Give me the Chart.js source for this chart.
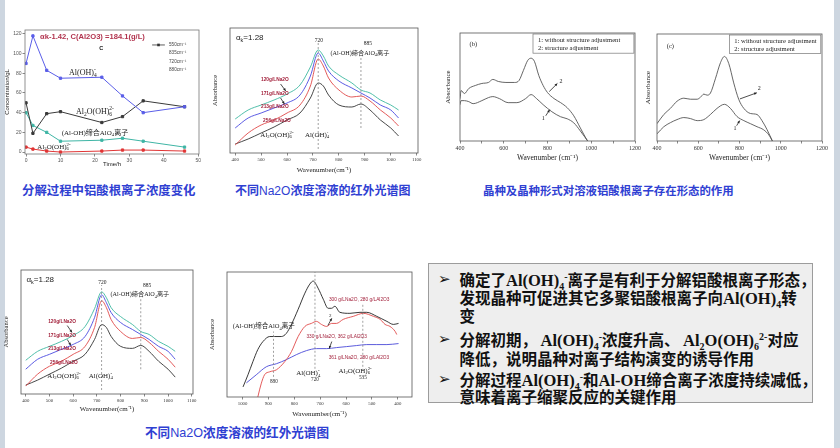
<!DOCTYPE html>
<html><head><meta charset="utf-8">
<script src="https://cdn.jsdelivr.net/npm/chart.js@4.4.1/dist/chart.umd.min.js"></script>
<style>
html,body{margin:0;padding:0;background:#fff;}
body{width:840px;height:448px;overflow:hidden;position:relative;}
.edge{position:absolute;top:0;height:448px;background:#cdd6e0}
canvas{position:absolute}
.cap{position:absolute;color:#2f40d2;font-family:"Noto Sans CJK SC",sans-serif;font-weight:700;white-space:nowrap;line-height:16px}
.cap .lat{font-family:"Liberation Sans",Arial,sans-serif;font-weight:400}
.box{position:absolute;left:428px;top:263px;width:385px;height:140px;box-sizing:border-box;background:#eeeeee;border:1.5px solid #9c9c9c;font-family:"Noto Sans CJK SC",sans-serif;font-weight:700;font-size:15.5px;color:#111}
.ln{position:absolute;left:30.5px;height:18px;line-height:18px;white-space:nowrap}
.bul{position:absolute;left:9px;height:18px;line-height:18px;font-family:"DejaVu Sans",sans-serif;font-weight:400;font-size:15px}
.s{font-family:"Liberation Serif",serif;font-weight:700;font-size:16.5px;line-height:0}
.s sub,.s sup{font-size:10px;line-height:0}
</style></head>
<body>
<div class="edge" style="left:0;width:5px"></div>
<div class="edge" style="right:0;width:6px"></div>

<div class="cap" style="left:22px;top:182px;font-size:12.4px">分解过程中铝酸根离子浓度变化</div>
<div class="cap" style="left:235px;top:182px;font-size:12px">不同<span class="lat">Na2O</span>浓度溶液的红外光谱图</div>
<div class="cap" style="left:483px;top:182px;font-size:11.4px">晶种及晶种形式对溶液铝酸根离子存在形态的作用</div>
<div class="cap" style="left:145px;top:424px;font-size:12.6px">不同<span class="lat">Na2O</span>浓度溶液的红外光谱图</div>

<div class="box">
<span class="bul" style="top:5.5px">➢</span>
<div class="ln" style="top:5.5px">确定了<span class="s">Al(OH)<sub>4</sub><sup>-</sup></span>离子是有利于分解铝酸根离子形态，</div>
<div class="ln" style="top:24px">发现晶种可促进其它多聚铝酸根离子向<span class="s">Al(OH)<sub>4</sub></span>转</div>
<div class="ln" style="top:42px">变</div>
<span class="bul" style="top:66px">➢</span>
<div class="ln" style="top:66px">分解初期，&nbsp;<span class="s">Al(OH)<sub>4</sub><sup>-</sup></span>浓度升高、&nbsp;<span class="s">Al<sub>2</sub>O(OH)<sub>6</sub><sup>2-</sup></span>对应</div>
<div class="ln" style="top:84.5px">降低，说明晶种对离子结构演变的诱导作用</div>
<span class="bul" style="top:105.5px">➢</span>
<div class="ln" style="top:105.5px">分解过程<span class="s">Al(OH)<sub>4</sub><sup>-</sup></span>和<span class="s">Al-OH</span>缔合离子浓度持续减低，</div>
<div class="ln" style="top:123px">意味着离子缩聚反应的关键作用</div>
</div>

<script>
// ================= DATA =================
// Panel 1: concentration vs time
const timeH        = [0, 2, 6, 10, 22, 28, 34, 46];
const concAlOH4    = [90, 118, 83, 75, 76, 57, 40, 46];
const concAl2O     = [50, 19, 39, 41, 30, 36, 52, 46];
const concAssoc    = [40, 27, 20, 11, 12, 14, 11, 5];
const concAl2OLow  = [5, 3, 1, 0, 1, 2, 2, 1];
const timeTicks    = [0, 10, 20, 30, 40, 50];
const concTicks    = [0, 20, 40, 60, 80, 100, 120];
const legendLabels = ['550cm⁻¹', '835cm⁻¹', '720cm⁻¹', '880cm⁻¹'];

// Panels 2 & 4: IR spectra at different Na2O concentrations
const naWn   = [400,450,500,550,600,650,690,720,740,760,800,850,885,920,960,1000,1030];
const na120  = [34,43,48,53,59,68,86,103,97,87,78,70,63,60,53,48,43];
const na171  = [25,35,40,45,50,58,77,100,92,82,72,65,60,55,48,43,35];
const na213  = [8,20,28,33,40,48,67,94,87,75,63,56,57,52,43,35,27];
const na256  = [9,14,20,26,33,40,55,70,67,58,48,46,49,43,33,25,17];
const naTicks = [400,500,600,700,800,900,1000,1100];
const naLabels = ['120g/LNa2O','171g/LNa2O','213g/LNa2O','256g/LNa2O'];

// Panel 3 (b): seed effect
const bWn2  = [400,405,420,440,470,500,530,550,575,610,650,670,690,710,725,740,760,780,800,830,860,890,920,950,975,990];
const bAbs2 = [42,50,47,52,55,57,58,61,59,58,58,60,70,80,82,79,65,55,48,42,38,33,25,13,3,-2];
const bWn1  = [400,405,420,440,460,500,530,550,580,620,660,700,725,750,780,820,860,890,920,950,990];
const bAbs1 = [36,40,40,39,37,40,43,44,42,38,38,42,46,42,36,29,24,22,18,10,-2];
// Panel 3 (c)
const cWn2  = [400,433,465,497,530,562,595,611,627,643,659,683,708,727,748,772,796,821,853,885,909,934,962];
const cAbs2 = [17,26,32,39,42,41,41,43,46,45,47,61,77,83,76,57,41,32,27,26,20,11,-1];
const cWn1  = [400,433,465,497,530,562,595,627,659,691,727,756,788,821,853,885,917,942,962];
const cAbs1 = [7,14,18,21,23,22,20,21,26,32,36,32,24,20,17,14,11,6,-1];
const seedTicks = [400,500,600,700,800,900,1000,1100,1200];
const seedLegend = ['1: without structure adjustment','2: structure adjustment'];

// Panel 5: mixed solutions
const mixBlackWn = [998,979,960,941,921,895,876,850,831,811,785,759,740,727,708,688,669,656,643,624,585,546,520,481,442,417,397];
const mixBlack   = [10,22,35,47,55,60,60,60,63,72,87,103,112,115,108,97,88,88,90,84,83,84,84,80,75,72,73];
const mixRedWn   = [950,928,915,895,869,837,811,785,759,734,714,695,675,656,637,611,572,533,494,468,449,430,410,404];
const mixRed     = [-10,13,22,25,27,35,45,60,70,73,75,72,70,73,73,77,80,83,80,77,72,70,65,62];
const mixBlueWn  = [985,947,908,869,831,792,753,714,675,637,598,560,520,481,442,397];
const mixBlue    = [14,22,30,33,37,42,46,48,48,49,50,51,52,52,52,53];
const mixTicks   = [1000,900,800,700,600,500,400];
const mixLabels  = ['300 g/LNa2O, 280 g/LAl2O3','330 g/LNa2O, 362 g/LAl2O3','361 g/LNa2O, 280 g/LAl2O3'];

// ================= HELPERS =================
const SANS  = '"Liberation Sans", Arial, sans-serif';
const SERIF = '"Liberation Serif", "Times New Roman", "Noto Sans CJK SC", serif';
const NRED  = '#a3223c';
const NOTES = {};

function parseRich(str){
  const segs=[]; let i=0;
  while(i<str.length){
    const c=str[i];
    if(c==='_'||c==='^'){
      let t=''; i++;
      if(str[i]==='{'){ i++; while(i<str.length&&str[i]!=='}'){t+=str[i];i++;} i++; }
      else { t=str[i]; i++; }
      segs.push({t,k:c==='_'?'sub':'sup'});
    } else {
      let t=''; while(i<str.length&&str[i]!=='_'&&str[i]!=='^'){t+=str[i];i++;}
      segs.push({t,k:'n'});
    }
  }
  return segs;
}
function drawRich(ctx,str,x,y,o){
  const size=o.size||7, fam=o.fam||SANS, w=o.w||'normal', sm=size*0.68;
  const segs=parseRich(str);
  const f=s=>`${w} ${s.k==='n'?size:sm}px ${fam}`;
  let pos=0; const placed=[];
  for(let i=0;i<segs.length;i++){
    const s=segs[i]; ctx.font=f(s); s.w=ctx.measureText(s.t).width;
    if(s.k==='sup'&&i>0&&segs[i-1].k==='sub'){
      const p=segs[i-1]; s.x=p.x; pos=p.x+Math.max(p.w,s.w);
    } else { s.x=pos; pos+=s.w; }
    placed.push(s);
  }
  let x0=x; if((o.a||'center')==='center') x0=x-pos/2; else if(o.a==='right') x0=x-pos;
  ctx.fillStyle=o.c||'#222'; ctx.textBaseline='middle'; ctx.textAlign='left';
  placed.forEach(s=>{
    ctx.font=f(s);
    const dy = s.k==='sub'? size*0.3 : s.k==='sup'? -size*0.38 : 0;
    ctx.fillText(s.t,x0+s.x,y+dy);
  });
}

Chart.register({
  id:'notes',
  afterDatasetsDraw(chart){
    const n=NOTES[chart.canvas.id]; if(!n) return;
    const ctx=chart.ctx, xs=chart.scales.x, ys=chart.scales.y, ca=chart.chartArea;
    const X=v=>xs.getPixelForValue(v), Y=v=>ys.getPixelForValue(v);
    ctx.save();
    (n.items||[]).forEach(it=>{
      if(it.t==='vline'){
        ctx.strokeStyle=it.c||'#8a8a8a'; ctx.lineWidth=0.8; ctx.setLineDash([2,2]);
        ctx.beginPath(); ctx.moveTo(X(it.x),Y(it.y0)); ctx.lineTo(X(it.x),Y(it.y1)); ctx.stroke(); ctx.setLineDash([]);
      } else if(it.t==='text'){
        drawRich(ctx,it.s,X(it.x),Y(it.y),it);
      } else if(it.t==='arrow'){
        const x0=X(it.x0),y0=Y(it.y0),x1=X(it.x1),y1=Y(it.y1);
        ctx.strokeStyle='#222'; ctx.fillStyle='#222'; ctx.lineWidth=0.8;
        ctx.beginPath(); ctx.moveTo(x0,y0); ctx.lineTo(x1,y1); ctx.stroke();
        const a=Math.atan2(y1-y0,x1-x0), L=3;
        ctx.beginPath(); ctx.moveTo(x1,y1);
        ctx.lineTo(x1-L*Math.cos(a-0.45),y1-L*Math.sin(a-0.45));
        ctx.lineTo(x1-L*Math.cos(a+0.45),y1-L*Math.sin(a+0.45)); ctx.closePath(); ctx.fill();
      } else if(it.t==='box'){
        ctx.fillStyle='#fff'; ctx.strokeStyle='#777'; ctx.lineWidth=0.7;
        const x0=X(it.x0),y0=Y(it.y0),x1=X(it.x1),y1=Y(it.y1);
        ctx.fillRect(x0,y0,x1-x0,y1-y0); ctx.strokeRect(x0,y0,x1-x0,y1-y0);
      } else if(it.t==='legline'){
        ctx.strokeStyle='#333'; ctx.fillStyle='#333'; ctx.lineWidth=0.8;
        ctx.beginPath(); ctx.moveTo(X(it.x0),Y(it.y)); ctx.lineTo(X(it.x1),Y(it.y)); ctx.stroke();
        const mx=(X(it.x0)+X(it.x1))/2; ctx.fillRect(mx-1.3,Y(it.y)-1.3,2.6,2.6);
      }
    });
    if(n.frame){
      ctx.strokeStyle=n.frame; ctx.lineWidth=n.fw||0.8;
      ctx.strokeRect(ca.left,ca.top,ca.right-ca.left,ca.bottom-ca.top);
    }
    ctx.restore();
  }
});

const pts=(xs,ys)=>xs.map((x,i)=>({x,y:ys[i]}));
function spec(label,xs,ys,color,w){
  return {label,data:pts(xs,ys),borderColor:color,backgroundColor:color,borderWidth:w||0.9,
    pointRadius:0,cubicInterpolationMode:'monotone',fill:false};
}

function xScale(o,H){
  return {
    type:'linear',min:o.min,max:o.max,reverse:!!o.reverse,
    afterFit(s){ s.height=H; s.paddingLeft=0; s.paddingRight=0; },
    afterBuildTicks(s){ s.ticks=o.ticks.map(v=>({value:v})); },
    border:{display:false},
    grid:{display:true,drawOnChartArea:false,drawTicks:true,tickLength:o.tl||2.5,color:'#555',lineWidth:0.7},
    ticks:{display:true,autoSkip:false,maxRotation:0,padding:o.tp||1,color:o.lc||'#333',
      font:{family:o.fam||SANS,size:o.fs||5},callback:o.cb||(v=>String(v))},
    title:{display:true,text:o.title,color:'#222',font:{family:o.tfam||SERIF,size:o.tfs||7},padding:{top:0,bottom:o.tpb}}
  };
}
function yScale(o,W){
  const sc={
    type:'linear',min:o.min,max:o.max,
    afterFit(s){ s.width=W; s.paddingTop=0; s.paddingBottom=0; },
    border:{display:false},
    grid:{display:!!o.ticks,drawOnChartArea:false,drawTicks:true,tickLength:2.5,color:'#555',lineWidth:0.7},
    ticks:{display:!!o.ticks,autoSkip:false,padding:1,color:o.lc||'#333',font:{family:o.fam||SANS,size:o.fs||5}},
    title:{display:true,text:o.title,color:'#222',font:{family:o.tfam||SERIF,size:o.tfs||7},padding:{top:o.tpt,bottom:0}}
  };
  if(o.ticks) sc.afterBuildTicks=(s)=>{ s.ticks=o.ticks.map(v=>({value:v})); };
  return sc;
}
function makeChart(id,box,frame,xo,yo,datasets,notes){
  const cv=document.createElement('canvas'); cv.id=id;
  cv.width=box.w; cv.height=box.h;
  cv.style.left=box.l+'px'; cv.style.top=box.t+'px';
  cv.style.width=box.w+'px'; cv.style.height=box.h+'px';
  document.body.appendChild(cv);
  NOTES[id]=notes;
  return new Chart(cv,{
    type:'line',data:{datasets},
    options:{
      responsive:false,animation:false,devicePixelRatio:1,
      layout:{padding:{left:0,top:frame.t-box.t,right:box.l+box.w-frame.r,bottom:0}},
      plugins:{legend:{display:false},tooltip:{enabled:false}},
      scales:{x:xScale(xo,box.t+box.h-frame.b),y:yScale(yo,frame.l-box.l)}
    }
  });
}

// ================= PANEL 1 =================
function series1(label,ys,color){
  return {label,data:pts(timeH,ys),borderColor:color,backgroundColor:color,borderWidth:1,
    pointStyle:'rect',pointRadius:1.6,tension:0,fill:false};
}
makeChart('c1',{l:0,t:20,w:210,h:155},{l:25,t:30,r:199,b:154},
  {min:-0.3,max:50.2,ticks:timeTicks,fs:5,lc:'#555',title:'Time/h',tfam:SANS,tfs:6,tpb:7.5},
  {min:-2,max:124,ticks:concTicks,fs:5,lc:'#555',title:'Concentration/gL',tfam:SANS,tfs:6,tpt:4},
  [series1('Al(OH)4-',concAlOH4,'#5a5ee8'),series1('Al2O(OH)6 2-',concAl2O,'#3a3a3a'),
   series1('(Al-OH)',concAssoc,'#3fb5a5'),series1('Al2O(OH)6 2- low',concAl2OLow,'#e03535')],
  {frame:'#777',items:[
    {t:'text',x:4.05,y:116.9,s:'αk-1.42, C(Al2O3) =184.1(g/L)',size:7.6,w:'bold',c:'#b2344f',a:'left'},
    {t:'text',x:21.8,y:105.7,s:'C',size:5.5,w:'bold',c:'#111'},
    {t:'legline',x0:36.6,x1:40.3,y:108.8},
    {t:'text',x:41.5,y:108.8,s:legendLabels[0],size:4.6,c:'#444',a:'left'},
    {t:'text',x:41.5,y:100.6,s:legendLabels[1],size:4.6,c:'#444',a:'left'},
    {t:'text',x:41.5,y:91.5,s:legendLabels[2],size:4.6,c:'#444',a:'left'},
    {t:'text',x:41.5,y:83.3,s:legendLabels[3],size:4.6,c:'#444',a:'left'},
    {t:'text',x:16.5,y:80.3,s:'Al(OH)_4^-',size:8,fam:SERIF},
    {t:'text',x:20,y:40.7,s:'Al_2O(OH)_6^{2-}',size:8,fam:SERIF},
    {t:'text',x:20,y:19.3,s:'(Al-OH)缔合AlO_4离子',size:7,fam:SERIF},
    {t:'text',x:8.1,y:5.1,s:'Al_2O(OH)_6^{2-}',size:7,fam:SERIF}
  ]});

// ================= PANELS 2 & 4 =================
function naSets(){
  return [spec(naLabels[0],naWn,na120,'#3db8a0'),spec(naLabels[1],naWn,na171,'#4a4ae0'),
          spec(naLabels[2],naWn,na213,'#e04848'),spec(naLabels[3],naWn,na256,'#333333')];
}
const naNotes=[
  {t:'vline',x:720,y0:4,y1:110},{t:'vline',x:885,y0:25,y1:96},
  {t:'text',x:403,y:115,s:'α_k=1.28',size:8,a:'left',c:'#222'},
  {t:'text',x:723,y:112,s:'720',size:5.5,fam:SERIF},
  {t:'text',x:912,y:109,s:'885',size:5.5,fam:SERIF},
  {t:'text',x:881,y:100,s:'(Al-OH)缔合AlO_4离子',size:6.2,fam:SERIF},
  {t:'text',x:553,y:73,s:naLabels[0],size:4.8,w:'bold',c:NRED},
  {t:'text',x:553,y:59,s:naLabels[1],size:4.8,w:'bold',c:NRED},
  {t:'text',x:553,y:46,s:naLabels[2],size:4.8,w:'bold',c:NRED},
  {t:'text',x:561,y:32,s:naLabels[3],size:4.8,w:'bold',c:NRED},
  {t:'arrow',x0:575,y0:69,x1:595,y1:62},{t:'arrow',x0:575,y0:55,x1:590,y1:49},
  {t:'text',x:561,y:18,s:'Al_2O(OH)_6^{2-}',size:7,fam:SERIF},
  {t:'text',x:716,y:18,s:'Al(OH)_4^-',size:7,fam:SERIF}
];
makeChart('c2',{l:203,t:22,w:222,h:163},{l:230,t:28,r:418,b:153},
  {min:380,max:1105,ticks:naTicks,fs:4.8,fam:SERIF,title:'Wavenumber(cm⁻¹)',tfs:7,tpb:10.5},
  {min:0,max:125,title:'Absorbance',tfs:6.5,tpt:8},
  naSets(),{frame:'#555',items:naNotes});
makeChart('c4',{l:0,t:262,w:200,h:160},{l:21,t:270,r:193,b:394},
  {min:380,max:1105,ticks:naTicks,fs:4.8,fam:SERIF,title:'Wavenumber(cm⁻¹)',tfs:7,tpb:8.5},
  {min:0,max:125,title:'Absorbance',tfs:6.5,tpt:2.5},
  naSets(),{frame:'#555',items:naNotes});

// ================= PANEL 3 (b),(c) =================
const seedCb=v=>(v%200===0?String(v):'');
makeChart('c3b',{l:436,t:25,w:212,h:145},{l:460,t:33,r:635,b:141},
  {min:400,max:1200,ticks:seedTicks,fs:6,fam:SERIF,cb:seedCb,title:'Wavenumber (cm⁻¹)',tfs:7.5,tpb:7.5},
  {min:0,max:107,title:'Absorbance',tfs:7,tpt:7.5},
  [spec('1',bWn1,bAbs1,'#555',0.9),spec('2',bWn2,bAbs2,'#555',0.9)],
  {frame:'#555',items:[
    {t:'box',x0:733.7,y0:106,x1:1195,y1:87},
    {t:'text',x:756.6,y:99.5,s:seedLegend[0],size:6.6,fam:SERIF,a:'left'},
    {t:'text',x:756.6,y:92,s:seedLegend[1],size:6.6,fam:SERIF,a:'left'},
    {t:'text',x:460.6,y:95.5,s:'(b)',size:6.5,fam:SERIF},
    {t:'text',x:862,y:59,s:'2',size:6,fam:SERIF},
    {t:'arrow',x0:808,y0:49,x1:845,y1:57},
    {t:'text',x:781,y:22.7,s:'1',size:6,fam:SERIF},
    {t:'arrow',x0:792,y0:25,x1:810,y1:31}
  ]});
makeChart('c3c',{l:637,t:25,w:197,h:145},{l:657,t:34,r:822,b:141},
  {min:400,max:1200,ticks:seedTicks,fs:6,fam:SERIF,cb:seedCb,title:'Wavenumber (cm⁻¹)',tfs:7.5,tpb:7.5},
  {min:0,max:105,title:'Absorbance',tfs:7,tpt:6.8},
  [spec('1',cWn1,cAbs1,'#555',0.9),spec('2',cWn2,cAbs2,'#555',0.9)],
  {frame:'#555',items:[
    {t:'box',x0:751,y0:104,x1:1194,y1:86},
    {t:'text',x:775,y:97.5,s:seedLegend[0],size:6.6,fam:SERIF,a:'left'},
    {t:'text',x:775,y:90,s:seedLegend[1],size:6.6,fam:SERIF,a:'left'},
    {t:'text',x:465,y:93,s:'(c)',size:6.5,fam:SERIF},
    {t:'text',x:896,y:51.5,s:'2',size:6,fam:SERIF},
    {t:'arrow',x0:802,y0:41.3,x1:884,y1:47.3},
    {t:'text',x:778,y:12.5,s:'1',size:6,fam:SERIF},
    {t:'arrow',x0:786,y0:15,x1:801,y1:20}
  ]});

// ================= PANEL 5 =================
makeChart('c5',{l:203,t:262,w:214,h:160},{l:227,t:272,r:412,b:397},
  {min:345,max:1060,reverse:true,ticks:mixTicks,fs:4.8,fam:SERIF,title:'Wavenumber(cm⁻¹)',tfs:7,tpb:3.5},
  {min:0,max:124,title:'Absorbance',tfs:6.5,tpt:5.8},
  [spec(mixLabels[0],mixBlackWn,mixBlack,'#222'),spec(mixLabels[1],mixRedWn,mixRed,'#e04848'),
   spec(mixLabels[2],mixBlueWn,mixBlue,'#4a4ad8')],
  {frame:'#555',items:[
    {t:'vline',x:880,y0:20,y1:65},{t:'vline',x:720,y0:28,y1:124},{t:'vline',x:535,y0:26,y1:92},
    {t:'text',x:918,y:70,s:'(Al-OH)缔合AlO_4离子',size:6.5,fam:SERIF},
    {t:'text',x:549,y:96.7,s:mixLabels[0],size:4.8,c:NRED},
    {t:'text',x:636,y:60,s:mixLabels[1],size:4.8,c:NRED},
    {t:'text',x:550,y:39,s:mixLabels[2],size:4.8,c:NRED},
    {t:'text',x:661,y:81,s:'2',size:5,fam:SERIF},
    {t:'arrow',x0:670,y0:71,x1:655,y1:78},
    {t:'arrow',x0:655,y0:55,x1:665,y1:48},
    {t:'text',x:746,y:23.4,s:'Al(OH)_4^-',size:7,fam:SERIF},
    {t:'text',x:720,y:17.7,s:'720',size:5.2,fam:SERIF},
    {t:'text',x:565,y:25.7,s:'Al_2O(OH)_6^{2-}',size:7,fam:SERIF},
    {t:'text',x:535,y:19,s:'535',size:5.2,fam:SERIF},
    {t:'text',x:879,y:15.7,s:'880',size:5.2,fam:SERIF}
  ]});
</script>
</body></html>
